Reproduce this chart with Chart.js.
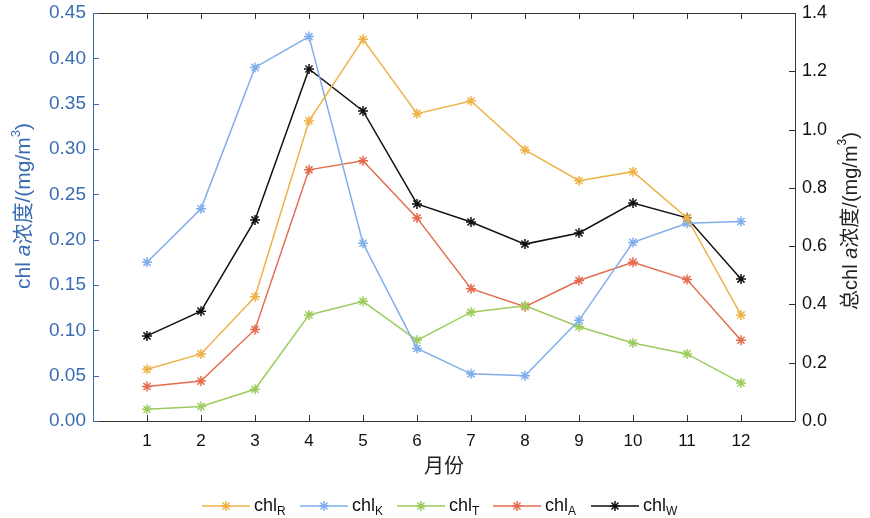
<!DOCTYPE html>
<html>
<head>
<meta charset="utf-8">
<script src="https://cdn.jsdelivr.net/npm/chart.js"></script>
<style>
  body { margin: 0; background: #fff; }
</style>
</head>
<body>
<canvas id="chart" width="870" height="518"></canvas>
<script>
const months = [1, 2, 3, 4, 5, 6, 7, 8, 9, 10, 11, 12];
const chlR = [0.057, 0.074, 0.137, 0.331, 0.421, 0.339, 0.353, 0.299, 0.265, 0.275, 0.224, 0.117];
const chlK = [0.175, 0.234, 0.390, 0.424, 0.196, 0.080, 0.052, 0.050, 0.111, 0.197, 0.218, 0.220];
const chlT = [0.013, 0.016, 0.035, 0.117, 0.132, 0.089, 0.120, 0.127, 0.104, 0.086, 0.074, 0.042];
const chlA = [0.038, 0.044, 0.101, 0.277, 0.287, 0.224, 0.146, 0.126, 0.155, 0.175, 0.156, 0.089];
const chlW = [0.292, 0.377, 0.690, 1.208, 1.064, 0.745, 0.683, 0.607, 0.645, 0.748, 0.697, 0.487];

const seriesNames = ['R', 'K', 'T', 'A', 'W'];
const seriesColors = ['#EDB349', '#7FAEEB', '#9CCB5E', '#E46C4F', '#111111'];
const legendStarts = [202, 300, 397, 493, 591];
const FONT = '"Liberation Sans", Arial, "Noto Sans CJK SC", sans-serif';
const LEFT_BLUE = '#3A6CB4';
const FRAME = '#333333';

function pts(values) {
  return values.map((v, i) => ({ x: months[i], y: v }));
}

function drawRich(ctx, parts, x, y) {
  let total = 0;
  parts.forEach(p => { ctx.font = p.font; total += ctx.measureText(p.text).width; });
  let cx = x - total / 2;
  parts.forEach(p => {
    ctx.font = p.font;
    ctx.fillText(p.text, cx, y + (p.dy || 0));
    cx += ctx.measureText(p.text).width;
  });
}

function unitTitle(prefix, size) {
  const f = size + 'px ' + FONT;
  return [
    { text: prefix + 'chl ', font: f }, { text: 'a', font: 'italic ' + f },
    { text: '浓度/(mg/m', font: f }, { text: '3', font: Math.round(size * 0.6) + 'px ' + FONT, dy: -8 },
    { text: ')', font: f }
  ];
}

function noPad(s) {
  s.paddingTop = 0; s.paddingBottom = 0; s.paddingLeft = 0; s.paddingRight = 0;
}

const axisDecor = {
  id: 'axisDecor',
  afterDraw(chart) {
    const ctx = chart.ctx;
    const a = chart.chartArea;
    const xs = chart.scales.x, yl = chart.scales.y, yr = chart.scales.y2;
    ctx.save();
    // frame
    ctx.lineWidth = 1;
    ctx.strokeStyle = FRAME;
    ctx.beginPath();
    ctx.moveTo(a.left, a.top + 0.5); ctx.lineTo(a.right, a.top + 0.5);
    ctx.moveTo(a.left, a.bottom + 0.5); ctx.lineTo(a.right, a.bottom + 0.5);
    ctx.moveTo(a.right + 0.5, a.top); ctx.lineTo(a.right + 0.5, a.bottom);
    ctx.stroke();
    ctx.strokeStyle = LEFT_BLUE;
    ctx.beginPath();
    ctx.moveTo(a.left + 0.5, a.top); ctx.lineTo(a.left + 0.5, a.bottom + 1);
    // inward ticks
    const tl = 6;
    yl.ticks.forEach(t => {
      const py = Math.round(yl.getPixelForValue(t.value)) + 0.5;
      ctx.moveTo(a.left, py); ctx.lineTo(a.left + tl, py);
    });
    ctx.stroke();
    ctx.strokeStyle = FRAME;
    ctx.beginPath();
    yr.ticks.forEach(t => {
      const py = Math.round(yr.getPixelForValue(t.value)) + 0.5;
      ctx.moveTo(a.right, py); ctx.lineTo(a.right - tl, py);
    });
    months.forEach(m => {
      const px = Math.round(xs.getPixelForValue(m)) + 0.5;
      ctx.moveTo(px, a.bottom); ctx.lineTo(px, a.bottom - tl);
      ctx.moveTo(px, a.top); ctx.lineTo(px, a.top + tl);
    });
    ctx.stroke();

    // axis titles
    ctx.textBaseline = 'middle';
    ctx.textAlign = 'left';

    ctx.fillStyle = LEFT_BLUE;
    ctx.save();
    ctx.translate(24, 206);
    ctx.rotate(-Math.PI / 2);
    drawRich(ctx, unitTitle('', 21), 0, 0);
    ctx.restore();

    ctx.fillStyle = '#222';
    ctx.save();
    ctx.translate(851, 221);
    ctx.rotate(-Math.PI / 2);
    drawRich(ctx, unitTitle('总', 20), 0, 0);
    ctx.restore();

    ctx.fillStyle = '#222';
    drawRich(ctx, [{ text: '月份', font: '20px ' + FONT }], (a.left + a.right) / 2, 467);

    // legend
    const ly = 506;
    seriesNames.forEach((name, i) => {
      const lx = legendStarts[i];
      ctx.strokeStyle = seriesColors[i];
      ctx.lineWidth = 1.5;
      ctx.beginPath();
      ctx.moveTo(lx, ly); ctx.lineTo(lx + 48, ly);
      ctx.stroke();
      Chart.helpers.drawPoint(ctx, { pointStyle: 'star', radius: 5, borderWidth: 1.5 }, lx + 24, ly);
      ctx.fillStyle = '#111';
      ctx.font = '18px ' + FONT;
      const tx = lx + 52;
      ctx.fillText('chl', tx, ly);
      const w = ctx.measureText('chl').width;
      ctx.font = '12px ' + FONT;
      ctx.fillText(name, tx + w, ly + 6);
    });
    ctx.restore();
  }
};

function makeSet(label, values, color, axis) {
  return {
    label: label,
    data: pts(values),
    yAxisID: axis,
    borderColor: color,
    backgroundColor: color,
    borderWidth: 1.5,
    pointStyle: 'star',
    pointRadius: 5,
    pointBorderWidth: 1.5,
    pointBorderColor: color,
    tension: 0
  };
}

new Chart(document.getElementById('chart'), {
  type: 'line',
  data: {
    datasets: [
      makeSet('chlR', chlR, seriesColors[0], 'y'),
      makeSet('chlK', chlK, seriesColors[1], 'y'),
      makeSet('chlT', chlT, seriesColors[2], 'y'),
      makeSet('chlA', chlA, seriesColors[3], 'y'),
      makeSet('chlW', chlW, seriesColors[4], 'y2')
    ]
  },
  options: {
    responsive: false,
    animation: false,
    layout: { padding: { top: 13, left: 0, right: 0, bottom: 0 } },
    plugins: { legend: { display: false }, tooltip: { enabled: false } },
    scales: {
      x: {
        type: 'linear',
        min: 0,
        max: 13,
        afterBuildTicks: s => { s.ticks = months.map(m => ({ value: m })); },
        afterFit: s => { s.height = 97; noPad(s); },
        grid: { display: false, drawTicks: false },
        border: { display: false },
        ticks: { padding: 10, color: '#111', font: { size: 17, family: FONT }, maxRotation: 0 }
      },
      y: {
        position: 'left',
        min: 0,
        max: 0.45,
        afterFit: s => { s.width = 93; noPad(s); },
        grid: { display: false, drawTicks: false },
        border: { display: false },
        ticks: {
          stepSize: 0.05, padding: 7, color: LEFT_BLUE,
          font: { size: 19, family: FONT },
          callback: v => v.toFixed(2)
        }
      },
      y2: {
        position: 'right',
        min: 0,
        max: 1.4,
        afterFit: s => { s.width = 75; noPad(s); },
        grid: { display: false, drawTicks: false },
        border: { display: false },
        ticks: {
          stepSize: 0.2, padding: 7, color: '#111',
          font: { size: 18, family: FONT },
          callback: v => v.toFixed(1)
        }
      }
    }
  },
  plugins: [axisDecor]
});
</script>
</body>
</html>
